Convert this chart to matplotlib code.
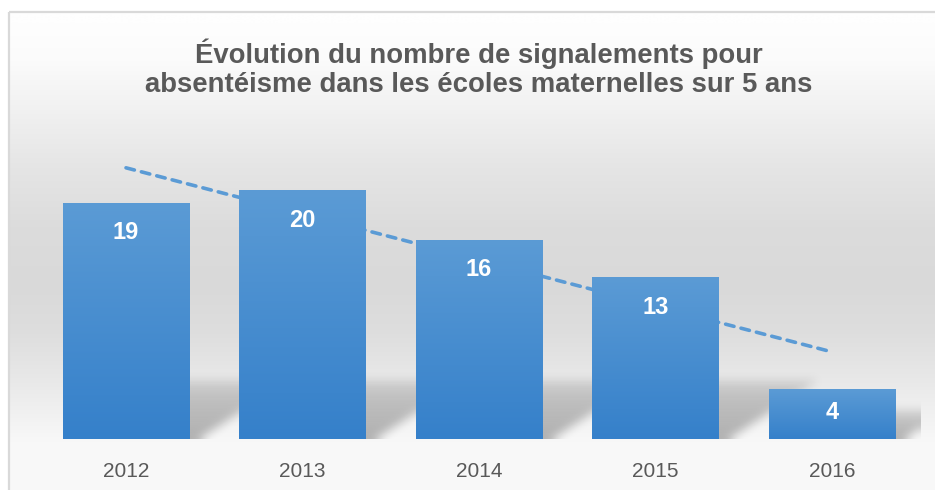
import numpy as np
import matplotlib
matplotlib.use("Agg")
import matplotlib.pyplot as plt
from matplotlib.path import Path
from matplotlib.colors import LinearSegmentedColormap

# ---- data ----
years = ["2012", "2013", "2014", "2015", "2016"]
values = [19, 20, 16, 13, 4]
title = "Évolution du nombre de signalements pour\nabsentéisme dans les écoles maternelles sur 5 ans"

# ---- style ----
W_PX, H_PX = 935, 490
DPI = 100
TEXT_GRAY = "#595959"
BAR_TOP = "#5B9BD5"
BAR_BOTTOM = "#3580CA"
TREND = "#5B9BD5"
BORDER = "#d9d9d9"
plt.rcParams["font.family"] = ["Liberation Sans", "DejaVu Sans"]

fig = plt.figure(figsize=(W_PX / DPI, H_PX / DPI), dpi=DPI)
fig.patch.set_facecolor("white")

# background (chart area gradient + border)
bg = fig.add_axes([0, 0, 1, 1], zorder=0)
bg.set_xlim(0, W_PX)
bg.set_ylim(H_PX, 0)
bg.axis("off")
stops_y = [12, 50, 100, 160, 220, 280, 330, 380, 420, 440, 490]
stops_v = [254, 251, 241, 229, 220, 217, 222, 233, 243, 248, 249]
ys = np.arange(H_PX) + 0.5
gv = np.interp(ys, stops_y, stops_v) / 255.0
grad = np.repeat(gv[:, None], 2, axis=1)
bg.imshow(np.dstack([grad, grad, grad]), extent=[8.5, W_PX, H_PX, 12.5],
          aspect="auto", interpolation="bilinear", zorder=0)
bg.plot([8.5, 8.5], [H_PX, 12.5], color=BORDER, lw=1.6, zorder=1, solid_capstyle="butt")
bg.plot([8.5, W_PX], [12.5, 12.5], color=BORDER, lw=1.6, zorder=1, solid_capstyle="butt")

fig.text(479 / W_PX, 1 - 68 / H_PX, title, ha="center", va="center",
         fontsize=19.8, fontweight="bold", color=TEXT_GRAY, linespacing=1.13)

# main axes
L, R = 37.75, 920.25
BASE, TOPPX = 439, 128  # pixel rows (from top) of y=0 and y=25
ax = fig.add_axes([L / W_PX, (H_PX - BASE) / H_PX, (R - L) / W_PX, (BASE - TOPPX) / H_PX], zorder=1)
ax.patch.set_alpha(0)
n = len(values)
ax.set_xlim(-0.5, n - 0.5)
ax.set_ylim(0, 25)
for s in ax.spines.values():
    s.set_visible(False)
ax.set_yticks([])
x = np.arange(n)
ax.set_xticks(x)
ax.set_xticklabels(years, fontsize=15, color=TEXT_GRAY)
ax.tick_params(axis="x", length=0, pad=16.5)

bw = 0.714

# shadows (raster, blurred)
sx_px_per_unit = (R - L) / n
sy_px_per_unit = (BASE - TOPPX) / 25.0
ext_y = 8.0
nx, ny = int(R - L), int(ext_y * sy_px_per_unit)
gx = -0.5 + (np.arange(nx) + 0.5) / nx * n
gy = (np.arange(ny) + 0.5) / ny * ext_y
GX, GY = np.meshgrid(gx, gy)
pts = np.column_stack([GX.ravel(), GY.ravel()])
mask = np.zeros(GX.shape)
for i, v in enumerate(values):
    sh = min(4.8, 0.6 * v)
    sh_px = sh * sy_px_per_unit
    sxs = sh_px * 1.7 / sx_px_per_unit
    x0, x1 = i - bw / 2, i + bw / 2
    poly = Path([(x0, -0.5), (x1, -0.5), (x1 + sxs, sh), (x0 + sxs, sh), (x0, -0.5)])
    m = poly.contains_points(pts).reshape(GX.shape)
    fade = np.clip(1.0 - GY / (sh + 0.01), 0, 1) ** 0.35
    mask = np.maximum(mask, m * fade)

def box_blur(a, r, axis):
    pad = [(0, 0), (0, 0)]
    pad[axis] = (r, r)
    ap = np.pad(a, pad, mode="edge")
    c = np.cumsum(ap, axis=axis)
    c = np.insert(c, 0, 0, axis=axis)
    k = 2 * r + 1
    if axis == 0:
        return (c[k:, :] - c[:-k, :]) / k
    return (c[:, k:] - c[:, :-k]) / k

for _ in range(3):
    mask = box_blur(mask, 4, 0)
    mask = box_blur(mask, 4, 1)
rgba = np.zeros(mask.shape + (4,))
rgba[..., 3] = mask * 0.28
ax.imshow(rgba, extent=[-0.5, n - 0.5, 0, ext_y], origin="lower",
          aspect="auto", interpolation="bilinear", zorder=1)

# trend line (linear fit of the series)
coef = np.polyfit(x, values, 1)
ax.plot(x, np.polyval(coef, x), color=TREND, lw=2.6, dashes=(2.4, 2.0),
        dash_capstyle="round", zorder=2)

# bars with vertical gradient
bars = ax.bar(x, values, width=bw, color="none", edgecolor="none", zorder=3)
cmap = LinearSegmentedColormap.from_list("bar", [BAR_BOTTOM, BAR_TOP])
gimg = np.linspace(0, 1, 256)[:, None]
for b in bars:
    bx, by, bwid, bh = b.get_x(), b.get_y(), b.get_width(), b.get_height()
    im = ax.imshow(gimg, cmap=cmap, origin="lower", aspect="auto",
                   extent=[bx, bx + bwid, by, by + bh], zorder=3, interpolation="bilinear")
    im.set_clip_path(b)

ax.set_xlim(-0.5, n - 0.5)
ax.set_ylim(0, 25)

# value labels inside bars
for i, v in enumerate(values):
    ly = max(v - 2.4, v * 0.54)
    ax.text(i, ly, str(v), ha="center", va="center", color="white",
            fontsize=17, fontweight="bold", zorder=4)

fig.savefig("out.png", dpi=DPI)
